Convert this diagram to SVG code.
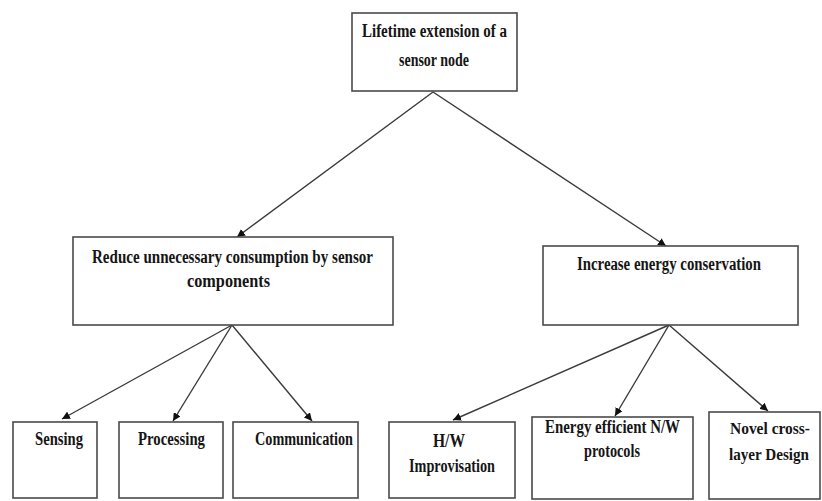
<svg xmlns="http://www.w3.org/2000/svg" width="822" height="501" viewBox="0 0 822 501">
<style>
.box{fill:#fff;stroke:#4a4a4a;stroke-width:1.6}
.t{font-family:"Liberation Serif","Times New Roman",serif;font-weight:bold;font-size:18px;fill:#151515}
.s{font-size:16px}
.c{stroke:#3a3a3a;stroke-width:1.4;fill:none;marker-end:url(#ah)}
</style>
<defs>
<marker id="ah" viewBox="0 0 10 10" refX="10" refY="5" markerWidth="8" markerHeight="8" markerUnits="userSpaceOnUse" orient="auto">
<path d="M0,0 L10,5 L0,10 Z" fill="#111"/>
</marker>
</defs>
<rect width="822" height="501" fill="#fff"/>
<g id="connectors">
<line class="c" x1="433" y1="92" x2="237" y2="237"/>
<line class="c" x1="433" y1="92" x2="666" y2="246"/>
<line class="c" x1="232" y1="325" x2="62" y2="419"/>
<line class="c" x1="232" y1="325" x2="173" y2="421"/>
<line class="c" x1="232" y1="325" x2="312" y2="421"/>
<line class="c" x1="669" y1="325" x2="453" y2="420"/>
<line class="c" x1="669" y1="325" x2="615" y2="416"/>
<line class="c" x1="669" y1="325" x2="768" y2="411"/>
</g>
<g id="root">
<rect class="box" x="352" y="13" width="165" height="78"/>
<text class="t" x="434.5" y="37" text-anchor="middle" textLength="145" lengthAdjust="spacingAndGlyphs">Lifetime  extension of a</text>
<text class="t" x="434" y="66" text-anchor="middle" textLength="70" lengthAdjust="spacingAndGlyphs">sensor node</text>
</g>
<g id="reduce">
<rect class="box" x="73" y="237" width="320" height="88"/>
<text class="t" x="232.5" y="263" text-anchor="middle" textLength="281" lengthAdjust="spacingAndGlyphs">Reduce unnecessary consumption  by sensor</text>
<text class="t" x="228.5" y="287" text-anchor="middle" textLength="83" lengthAdjust="spacingAndGlyphs">components</text>
</g>
<g id="increase">
<rect class="box" x="543" y="246" width="255" height="79"/>
<text class="t" x="669" y="270" text-anchor="middle" textLength="184" lengthAdjust="spacingAndGlyphs">Increase energy conservation</text>
</g>
<g id="sensing">
<rect class="box" x="13" y="422" width="84" height="76"/>
<text class="t" x="59" y="445" text-anchor="middle" textLength="48" lengthAdjust="spacingAndGlyphs">Sensing</text>
</g>
<g id="processing">
<rect class="box" x="119" y="422" width="104" height="76"/>
<text class="t" x="171.5" y="445" text-anchor="middle" textLength="67" lengthAdjust="spacingAndGlyphs">Processing</text>
</g>
<g id="communication">
<rect class="box" x="233" y="422" width="125" height="76"/>
<text class="t" x="304" y="445" text-anchor="middle" textLength="98" lengthAdjust="spacingAndGlyphs">Communication</text>
</g>
<g id="hw">
<rect class="box" x="389" y="422" width="126" height="76"/>
<text class="t" x="449" y="447" text-anchor="middle" textLength="32" lengthAdjust="spacingAndGlyphs">H/W</text>
<text class="t" x="452" y="472" text-anchor="middle" textLength="86" lengthAdjust="spacingAndGlyphs">Improvisation</text>
</g>
<g id="energy">
<rect class="box" x="532" y="417" width="161" height="82"/>
<text class="t" x="612.5" y="433" text-anchor="middle" textLength="135" lengthAdjust="spacingAndGlyphs">Energy  efficient N/W</text>
<text class="t" x="612" y="457" text-anchor="middle" textLength="56" lengthAdjust="spacingAndGlyphs">protocols</text>
</g>
<g id="novel">
<rect class="box" x="709" y="412" width="111" height="87"/>
<text class="t s" x="770" y="434" text-anchor="middle" textLength="80" lengthAdjust="spacingAndGlyphs">Novel cross-</text>
<text class="t s" x="769" y="460" text-anchor="middle" textLength="80" lengthAdjust="spacingAndGlyphs">layer Design</text>
</g>
</svg>
